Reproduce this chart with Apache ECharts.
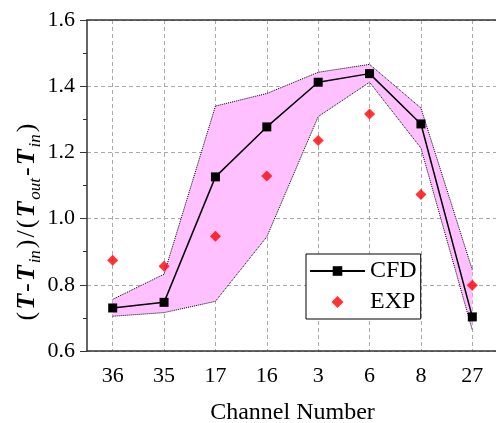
<!DOCTYPE html>
<html>
<head>
<meta charset="utf-8">
<script src="https://cdn.jsdelivr.net/npm/echarts@6/dist/echarts.min.js"></script>
<style>
    html, body { margin: 0; padding: 0; background: #fff; }
    #chart { width: 496px; height: 423px; }
</style>
</head>
<body>
<div id="chart"></div>
<script>
const channels = ['36', '35', '17', '16', '3', '6', '8', '27'];
const cfd = [0.730, 0.747, 1.126, 1.277, 1.412, 1.438, 1.286, 0.703];
const exp = [0.874, 0.856, 0.947, 1.129, 1.236, 1.316, 1.073, 0.799];
const bandUpper = [0.756, 0.832, 1.340, 1.378, 1.442, 1.466, 1.334, 0.845];
const bandLower = [0.705, 0.716, 0.750, 0.945, 1.308, 1.412, 1.213, 0.663];
const yTicks = [0.6, 0.8, 1.0, 1.2, 1.4, 1.6];

(function () {
    const font = 'Liberation Serif';
    const myChart = echarts.init(document.getElementById('chart'));

    // band is drawn as lower edge + stacked width
    const bandWidth = bandUpper.map((v, i) => +(v - bandLower[i]).toFixed(4));

    // y title pieces, a little spaced out like the original
    const pad = [0, 1, 0, 1];
    const titleRich = {
        c: { fontSize: 26, fontFamily: font, lineHeight: 34, padding: pad },
        t: { fontStyle: 'italic', fontWeight: 'bold', fontSize: 26, fontFamily: font, lineHeight: 34, padding: pad },
        s: { fontStyle: 'italic', fontSize: 17, fontFamily: font, verticalAlign: 'bottom', lineHeight: 17, padding: pad }
    };
    const titleText = '{c|(}{t|T}{c|-}{t|T}{s|in}{c|)}{c|/}{c|(}{t|T}{s|out}{c|-}{t|T}{s|in}{c|)}';

    const option = {
        animation: false,
        textStyle: { fontFamily: font, color: '#000' },
        grid: { left: 87, top: 20, width: 411, bottom: 72, outerBoundsMode: 'none' },
        legend: {
            left: 306,
            top: 254,
            orient: 'vertical',
            borderColor: '#000',
            borderWidth: 1,
            backgroundColor: '#fff',
            padding: [5, 4, 5, 3],
            itemWidth: 55,
            itemHeight: 12,
            itemGap: 7,
            symbolKeepAspect: true,
            textStyle: { fontSize: 24, fontFamily: font, color: '#000' },
            data: [
                { name: 'CFD' },
                { name: 'EXP', icon: 'path://M0,-5L5,0L0,5L-5,0Z' }
            ]
        },
        xAxis: [
            {
                type: 'category',
                data: channels,
                name: 'Channel Number',
                nameLocation: 'middle',
                nameGap: 50,
                nameTextStyle: { fontSize: 24, fontFamily: font, color: '#000' },
                axisLine: { lineStyle: { color: '#333', width: 1.5 } },
                axisTick: { alignWithLabel: true, length: 6, lineStyle: { color: '#333' } },
                axisLabel: { fontSize: 22, fontFamily: font, color: '#000', margin: 14 },
                splitLine: {
                    show: true,
                    alignWithLabel: true,
                    lineStyle: { color: '#aaa', type: [4, 3], width: 1 }
                }
            },
            {
                type: 'category',
                position: 'top',
                data: channels,
                axisLine: { lineStyle: { color: '#333', width: 1.5 } },
                axisTick: { show: false },
                axisLabel: { show: false },
                splitLine: { show: false }
            }
        ],
        yAxis: {
            type: 'value',
            min: 0.6,
            max: 1.6,
            interval: 0.2,
            axisLine: { show: true, lineStyle: { color: '#333', width: 1.5 } },
            axisTick: { show: true, length: 7, lineStyle: { color: '#333' } },
            minorTick: { show: true, splitNumber: 2, length: 4, lineStyle: { color: '#333' } },
            axisLabel: {
                fontSize: 22,
                fontFamily: font,
                color: '#000',
                margin: 12,
                formatter: v => yTicks.includes(+v.toFixed(1)) ? v.toFixed(1) : ''
            },
            splitLine: { lineStyle: { color: '#aaa', type: [4, 3], width: 1 } }
        },
        graphic: [
            {
                type: 'text',
                x: 27,
                y: 222,
                rotation: Math.PI / 2,
                style: {
                    text: titleText,
                    fontFamily: font,
                    fontSize: 26,
                    fill: '#000',
                    align: 'center',
                    verticalAlign: 'middle',
                    rich: titleRich
                }
            }
        ],
        series: [
            {
                name: 'bandLower',
                type: 'line',
                data: bandLower,
                stack: 'band',
                symbol: 'none',
                lineStyle: { color: '#000', width: 1, type: 'dotted' },
                z: 1
            },
            {
                name: 'bandUpper',
                type: 'line',
                data: bandWidth,
                stack: 'band',
                symbol: 'none',
                lineStyle: { color: '#000', width: 1, type: 'dotted' },
                areaStyle: { color: '#ffc0ff', opacity: 1 },
                z: 1
            },
            {
                name: 'CFD',
                type: 'line',
                data: cfd,
                symbol: 'rect',
                symbolSize: 9,
                itemStyle: { color: '#000' },
                lineStyle: { color: '#000', width: 1.5 },
                z: 3
            },
            {
                name: 'EXP',
                type: 'scatter',
                data: exp,
                symbol: 'diamond',
                symbolSize: 11,
                itemStyle: { color: '#ff0000' },
                z: 4
            }
        ]
    };

    myChart.setOption(option);
    window.addEventListener('resize', function () {
        myChart.resize();
    });
})();
</script>
</body>
</html>
